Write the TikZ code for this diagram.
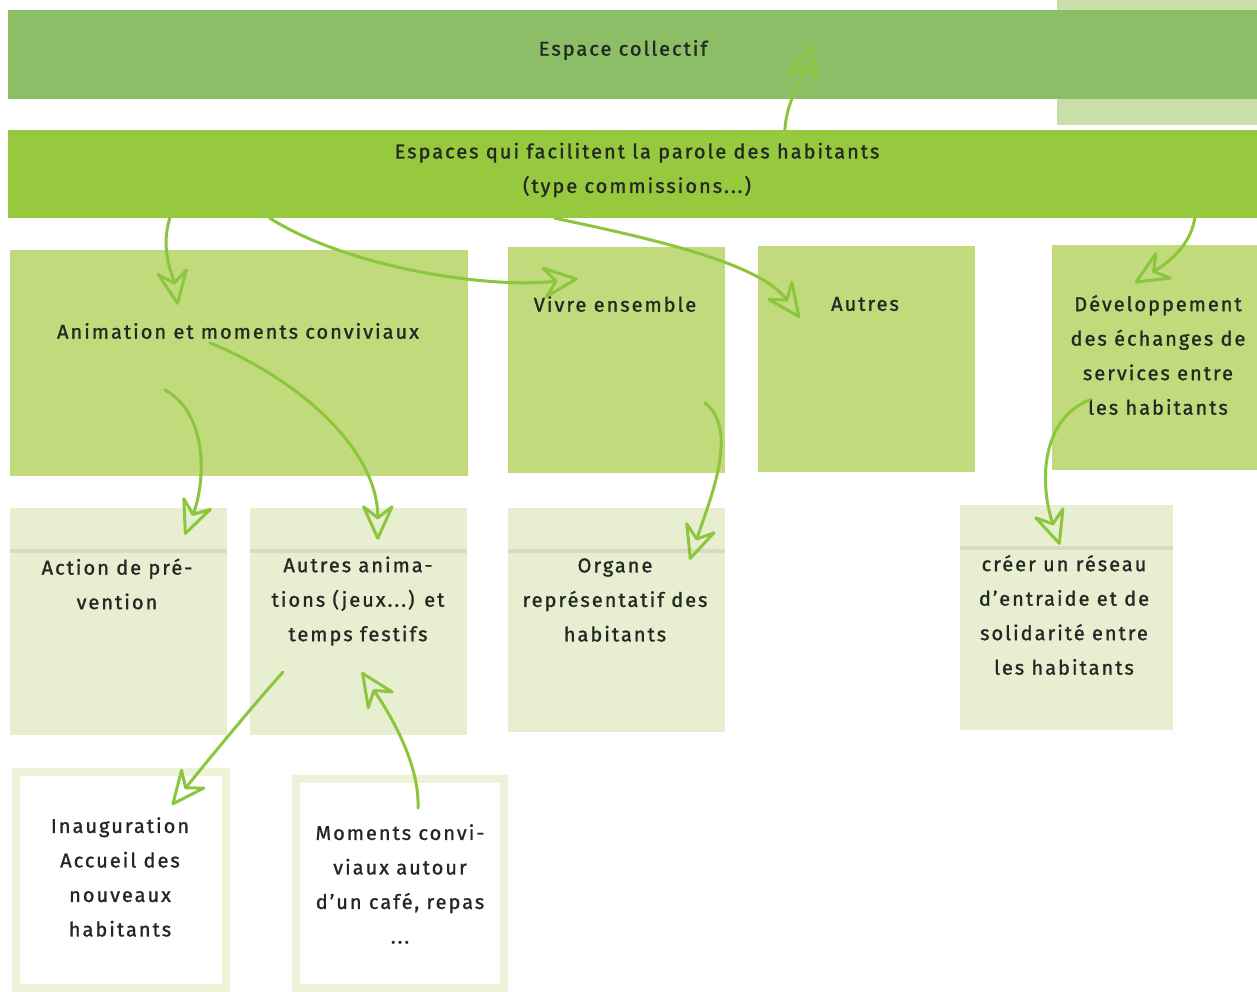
\documentclass[tikz,border=0pt]{standalone}
\usepackage{fontspec}
\setmainfont{Fira Sans}[LetterSpace=10.0, FakeBold=1.2]
\usetikzlibrary{arrows.meta,positioning}

\definecolor{CollectifColor}{RGB}{139,190,102}
\definecolor{ParoleColor}{RGB}{150,201,61}
\definecolor{CornerColor}{RGB}{200,224,168}
\definecolor{RowOneColor}{RGB}{192,218,124}
\definecolor{RowTwoColor}{RGB}{232,239,208}
\definecolor{FrameColor}{RGB}{236,243,216}
\definecolor{RuleColor}{RGB}{216,220,196}
\definecolor{ArrowColor}{RGB}{140,198,62}
\definecolor{TextColor}{RGB}{35,40,35}

\begin{document}
\begin{tikzpicture}[x=1pt,y=-1pt,
	band/.style={fill=#1, inner sep=0pt, minimum width=1249pt, minimum height=89pt},
	rowone/.style={fill=RowOneColor, inner sep=0pt, minimum width=217pt, minimum height=226pt},
	rowtwo/.style={fill=RowTwoColor, inner sep=0pt, minimum width=217pt, minimum height=226pt},
	framed/.style={draw=FrameColor, fill=white, line width=8pt, inner sep=0pt, minimum width=209pt, minimum height=212pt},
	txt/.style={align=center, inner sep=0pt, text=TextColor, font=\fontsize{20}{34.5}\selectfont},
	hand/.style={draw=ArrowColor, line width=3pt, line cap=round,
		-{Stealth[open,round,length=40pt,width=36pt,inset=14pt]}}]
	\useasboundingbox (0,0) rectangle (1257,992);
	\fill [CornerColor] (1057,0) rectangle (1257,125);

	% the two bands
	\node [band=CollectifColor] (collectif) at (632.5,55) {};
	\node [band=ParoleColor, minimum height=88pt] (parole) at (632.5,174) {};
	\node [txt] (collectiftxt) at (623,50) {Espace collectif};
	\node [txt] (paroletxt) at (637,170) {Espaces qui facilitent la parole des habitants\\(type commissions...)};

	% first row
	\node [rowone, minimum width=458pt] (anim) at (239,363) {};
	\node [rowone] (vivre) at (616.5,360) {};
	\node [rowone] (autres) at (866.5,359) {};
	\node [rowone, minimum width=205pt, minimum height=225pt] (devel) at (1154.5,357.5) {};
	\node [txt] (animtxt) at (238,331) {Animation et moments conviviaux};
	\node [txt] (vivretxt) at (615,304) {Vivre ensemble};
	\node [txt] (autrestxt) at (865,304) {Autres};
	\node [txt] (develtxt) at (1158,355) {Développement\\des échanges de\\services entre\\les habitants};

	% second row
	\node [rowtwo, minimum height=227pt] (action) at (118.5,621.5) {};
	\node [rowtwo, minimum height=227pt] (autanim) at (358.5,621.5) {};
	\node [rowtwo, minimum height=224pt] (organe) at (616.5,620) {};
	\node [rowtwo, minimum width=213pt, minimum height=225pt] (reseau) at (1066.5,617.5) {};
	\foreach \cell in {action,autanim,organe,reseau}
		\draw [RuleColor, line width=4pt] ([yshift=-43pt]\cell.north west) -- ([yshift=-43pt]\cell.north east);
	\node [txt] (actiontxt) at (117,584) {Action de pré-\\vention};
	\node [txt] (autanimtxt) at (358,601) {Autres anima-\\tions (jeux...) et\\temps festifs};
	\node [txt] (organetxt) at (615,600) {Organe\\représentatif des\\habitants};
	\node [txt] (reseautxt) at (1064,615) {créer un réseau\\d'entraide et de\\solidarité entre\\les habitants};

	% third row
	\node [framed, minimum width=210pt, minimum height=216pt] (inaug) at (121,880) {};
	\node [framed, minimum width=208pt, minimum height=209pt] (moments) at (400,883.5) {};
	\node [txt] (inaugtxt) at (120,877) {Inauguration\\Accueil des\\nouveaux\\habitants};
	\node [txt] (momentstxt) at (400,884) {Moments convi-\\viaux autour\\d'un café, repas\\...};

	% hand drawn arrows
	\draw [hand] ([xshift=777pt]parole.north west) .. controls +(3,-35) and +(-10,40) .. ([xshift=804pt,yshift=55pt]collectif.south west);
	\draw [hand] ([xshift=162pt]parole.south west) .. controls +(-10,32) and +(-5,-30) .. ([xshift=168pt,yshift=-55pt]anim.north west);
	\draw [hand] ([xshift=262pt]parole.south west) .. controls +(80,50) and +(-90,10) .. ([xshift=70pt,yshift=-32pt]vivre.north west);
	\draw [hand] ([xshift=547pt]parole.south west) .. controls +(95,20) and +(-40,-55) .. ([xshift=42pt,yshift=-72pt]autres.north west);
	\draw [hand] ([xshift=1187pt]parole.south west) .. controls +(-5,32) and +(25,-15) .. ([xshift=83pt,yshift=-38pt]devel.north west);
	\draw [hand] ([xshift=155pt,yshift=-140pt]anim.north west) .. controls +(45,25) and +(20,-50) .. ([xshift=175pt,yshift=-27pt]action.north west);
	\draw [hand] ([xshift=200pt,yshift=-93pt]anim.north west) .. controls +(90,37) and +(0,-90) .. ([xshift=128pt,yshift=-32pt]autanim.north west);
	\draw [hand] ([xshift=197pt,yshift=-156pt]vivre.north west) .. controls +(35,27) and +(20,-60) .. ([xshift=182pt,yshift=-52pt]organe.north west);
	\draw [hand] ([xshift=38pt,yshift=-155pt]devel.north west) .. controls +(-50,20) and +(-20,-60) .. ([xshift=100pt,yshift=-40pt]reseau.north west);
	\draw [hand] ([xshift=33pt,yshift=63pt]autanim.south west) .. controls +(-40,45) and +(20,-25) .. ([xshift=160pt,yshift=-37pt]inaug.north west);
	\draw [hand] ([xshift=126pt,yshift=-33pt]moments.north west) .. controls +(2,-50) and +(20,30) .. ([xshift=112pt,yshift=63pt]autanim.south west);
\end{tikzpicture}
\end{document}
